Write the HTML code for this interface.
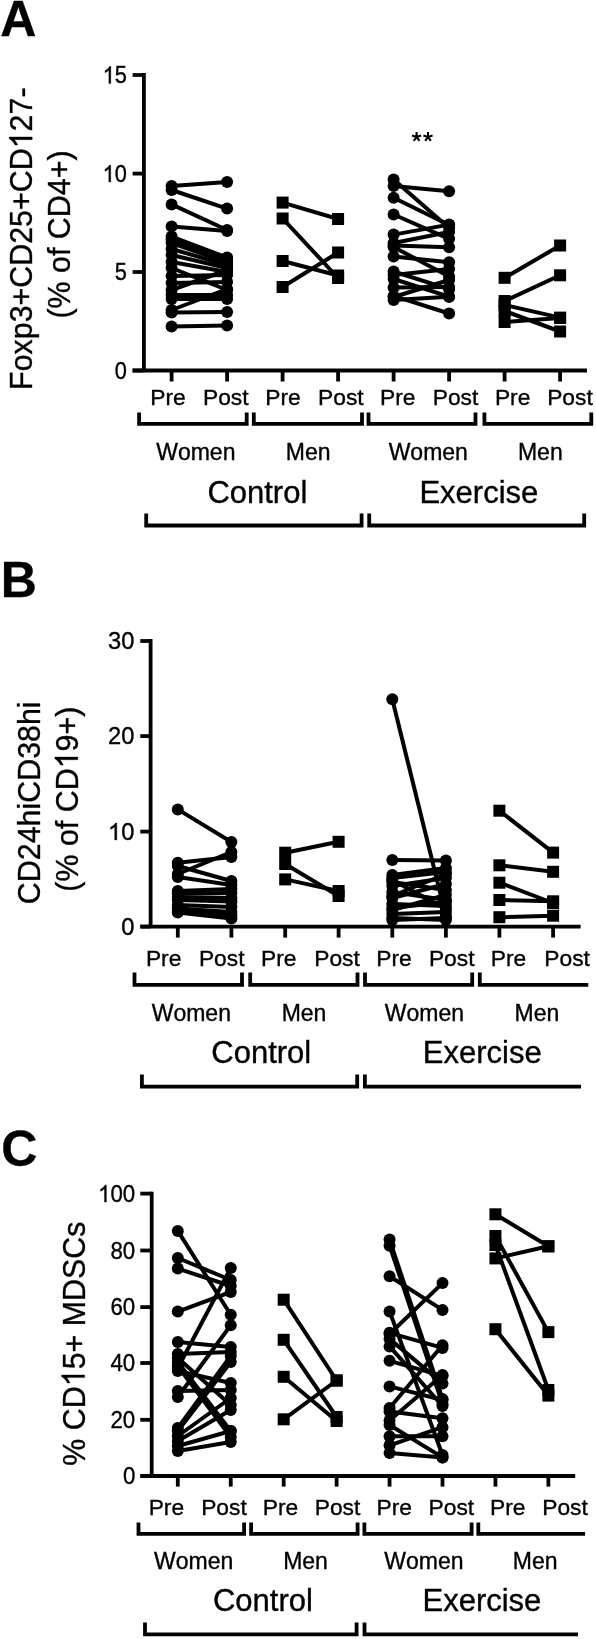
<!DOCTYPE html>
<html><head><meta charset="utf-8"><style>
html,body{margin:0;padding:0;background:#fff;}
svg{display:block;will-change:transform;}
text{font-family:"Liberation Sans",sans-serif;font-kerning:none;fill:#000;stroke:#000;stroke-width:0.35px;}
path.g1{fill:#000;stroke:#000;stroke-width:0.35px;vector-effect:non-scaling-stroke;}
circle,rect{stroke:none;}
</style></head><body>
<svg width="596" height="1639" viewBox="0 0 596 1639">
<rect width="596" height="1639" fill="#fff"/>
<g stroke="#000" stroke-linecap="butt" stroke-linejoin="miter" fill="#000">
<g transform="translate(0.25,36.00) scale(1.0,1)"><text x="0.00" y="0" font-size="50" font-weight="bold">A</text></g>
<g transform="translate(32.20,238.10) rotate(-90) translate(-151.81,0) scale(0.95,1)"><text x="0.00" y="0" font-size="32">Foxp3+CD25+CD</text><path class="g1" d="M763,0 H583 V1147 Q518,1085 412.5,1023 Q307,961 223,930 V1104 Q374,1175 487,1276 Q600,1377 647,1472 H763 Z" transform="translate(254.34,0) scale(0.01562,-0.01562)"/><text x="272.14" y="0" font-size="32">27-</text></g>
<g transform="translate(70.20,234.50) rotate(-90) translate(-84.05,0) scale(0.95,1)"><text x="0.00" y="0" font-size="32">(% of CD4+)</text></g>
<line x1="143.90" y1="73.10" x2="143.90" y2="370.50" stroke-width="3.8"/>
<line x1="132.60" y1="75.00" x2="143.90" y2="75.00" stroke-width="3.8"/>
<g transform="translate(102.66,83.40) scale(0.92,1)"><path class="g1" d="M763,0 H583 V1147 Q518,1085 412.5,1023 Q307,961 223,930 V1104 Q374,1175 487,1276 Q600,1377 647,1472 H763 Z" transform="translate(0.00,0) scale(0.01157,-0.01157)"/><text x="13.18" y="0" font-size="23.7">5</text></g>
<line x1="132.60" y1="173.60" x2="143.90" y2="173.60" stroke-width="3.8"/>
<g transform="translate(102.60,182.00) scale(0.92,1)"><path class="g1" d="M763,0 H583 V1147 Q518,1085 412.5,1023 Q307,961 223,930 V1104 Q374,1175 487,1276 Q600,1377 647,1472 H763 Z" transform="translate(0.00,0) scale(0.01157,-0.01157)"/><text x="13.18" y="0" font-size="23.7">0</text></g>
<line x1="132.60" y1="272.00" x2="143.90" y2="272.00" stroke-width="3.8"/>
<g transform="translate(114.79,280.04) scale(0.92,1)"><text x="0.00" y="0" font-size="23.7">5</text></g>
<line x1="132.60" y1="370.50" x2="143.90" y2="370.50" stroke-width="3.8"/>
<g transform="translate(114.73,378.66) scale(0.92,1)"><text x="0.00" y="0" font-size="23.7">0</text></g>
<line x1="132.60" y1="370.50" x2="587.00" y2="370.50" stroke-width="3.8"/>
<line x1="171.60" y1="370.50" x2="171.60" y2="381.50" stroke-width="3.8"/>
<line x1="227.10" y1="370.50" x2="227.10" y2="381.50" stroke-width="3.8"/>
<line x1="282.60" y1="370.50" x2="282.60" y2="381.50" stroke-width="3.8"/>
<line x1="338.10" y1="370.50" x2="338.10" y2="381.50" stroke-width="3.8"/>
<line x1="393.60" y1="370.50" x2="393.60" y2="381.50" stroke-width="3.8"/>
<line x1="449.10" y1="370.50" x2="449.10" y2="381.50" stroke-width="3.8"/>
<line x1="504.60" y1="370.50" x2="504.60" y2="381.50" stroke-width="3.8"/>
<line x1="560.10" y1="370.50" x2="560.10" y2="381.50" stroke-width="3.8"/>
<g transform="translate(150.18,405.30) scale(1.0,1)"><text x="0.00" y="0" font-size="22.8">Pre</text></g>
<g transform="translate(202.99,405.30) scale(1.0,1)"><text x="0.00" y="0" font-size="22.8">Post</text></g>
<g transform="translate(265.23,405.30) scale(1.0,1)"><text x="0.00" y="0" font-size="22.8">Pre</text></g>
<g transform="translate(318.04,405.30) scale(1.0,1)"><text x="0.00" y="0" font-size="22.8">Post</text></g>
<g transform="translate(379.98,405.30) scale(1.0,1)"><text x="0.00" y="0" font-size="22.8">Pre</text></g>
<g transform="translate(432.69,405.30) scale(1.0,1)"><text x="0.00" y="0" font-size="22.8">Post</text></g>
<g transform="translate(494.88,405.30) scale(1.0,1)"><text x="0.00" y="0" font-size="22.8">Pre</text></g>
<g transform="translate(547.14,405.30) scale(1.0,1)"><text x="0.00" y="0" font-size="22.8">Post</text></g>
<path d="M139.10,412.50 L139.10,423.90 L246.70,423.90 L246.70,412.50" stroke-width="3.8" fill="none"/>
<path d="M253.80,412.50 L253.80,423.90 L362.00,423.90 L362.00,412.50" stroke-width="3.8" fill="none"/>
<path d="M368.50,412.50 L368.50,423.90 L475.50,423.90 L475.50,412.50" stroke-width="3.8" fill="none"/>
<path d="M484.40,412.50 L484.40,423.90 L591.30,423.90 L591.30,412.50" stroke-width="3.8" fill="none"/>
<g transform="translate(156.18,459.50) scale(1.0,1)"><text x="0.00" y="0" font-size="23">Women</text></g>
<g transform="translate(285.73,459.50) scale(1.0,1)"><text x="0.00" y="0" font-size="23">Men</text></g>
<g transform="translate(388.63,459.50) scale(1.0,1)"><text x="0.00" y="0" font-size="23">Women</text></g>
<g transform="translate(517.93,459.50) scale(1.0,1)"><text x="0.00" y="0" font-size="23">Men</text></g>
<g transform="translate(207.38,502.50) scale(1.0,1)"><text x="0.00" y="0" font-size="31">Control</text></g>
<g transform="translate(419.43,502.50) scale(1.0,1)"><text x="0.00" y="0" font-size="31">Exercise</text></g>
<path d="M146.20,513.50 L146.20,525.50 L361.60,525.50 L361.60,513.50" stroke-width="3.8" fill="none"/>
<path d="M369.20,513.50 L369.20,525.50 L584.20,525.50 L584.20,513.50" stroke-width="3.8" fill="none"/>
<path d="M416.60,136.90 L416.60,132.10 M416.60,136.90 L421.17,135.42 M416.60,136.90 L419.42,140.78 M416.60,136.90 L413.78,140.78 M416.60,136.90 L412.03,135.42 " stroke-width="2.1" fill="none"/>
<path d="M428.00,136.90 L428.00,132.10 M428.00,136.90 L432.57,135.42 M428.00,136.90 L430.82,140.78 M428.00,136.90 L425.18,140.78 M428.00,136.90 L423.43,135.42 " stroke-width="2.1" fill="none"/>
<line x1="171.60" y1="186.00" x2="227.10" y2="182.00" stroke-width="4.0"/>
<line x1="171.60" y1="190.00" x2="227.10" y2="208.60" stroke-width="4.0"/>
<line x1="171.60" y1="204.40" x2="227.10" y2="230.00" stroke-width="4.0"/>
<line x1="171.60" y1="226.50" x2="227.10" y2="231.00" stroke-width="4.0"/>
<line x1="171.60" y1="236.50" x2="227.10" y2="257.50" stroke-width="4.0"/>
<line x1="171.60" y1="239.50" x2="227.10" y2="260.00" stroke-width="4.0"/>
<line x1="171.60" y1="243.00" x2="227.10" y2="262.50" stroke-width="4.0"/>
<line x1="171.60" y1="249.00" x2="227.10" y2="265.00" stroke-width="4.0"/>
<line x1="171.60" y1="255.00" x2="227.10" y2="268.00" stroke-width="4.0"/>
<line x1="171.60" y1="262.00" x2="227.10" y2="272.00" stroke-width="4.0"/>
<line x1="171.60" y1="268.00" x2="227.10" y2="290.00" stroke-width="4.0"/>
<line x1="171.60" y1="276.00" x2="227.10" y2="275.00" stroke-width="4.0"/>
<line x1="171.60" y1="290.00" x2="227.10" y2="270.00" stroke-width="4.0"/>
<line x1="171.60" y1="283.00" x2="227.10" y2="282.00" stroke-width="4.0"/>
<line x1="171.60" y1="295.00" x2="227.10" y2="295.00" stroke-width="4.0"/>
<line x1="171.60" y1="299.00" x2="227.10" y2="299.00" stroke-width="4.0"/>
<line x1="171.60" y1="310.00" x2="227.10" y2="289.00" stroke-width="4.0"/>
<line x1="171.60" y1="312.60" x2="227.10" y2="312.00" stroke-width="4.0"/>
<line x1="171.60" y1="326.50" x2="227.10" y2="325.40" stroke-width="4.0"/>
<circle cx="171.60" cy="186.00" r="6.0"/>
<circle cx="227.10" cy="182.00" r="6.0"/>
<circle cx="171.60" cy="190.00" r="6.0"/>
<circle cx="227.10" cy="208.60" r="6.0"/>
<circle cx="171.60" cy="204.40" r="6.0"/>
<circle cx="227.10" cy="230.00" r="6.0"/>
<circle cx="171.60" cy="226.50" r="6.0"/>
<circle cx="227.10" cy="231.00" r="6.0"/>
<circle cx="171.60" cy="236.50" r="6.0"/>
<circle cx="227.10" cy="257.50" r="6.0"/>
<circle cx="171.60" cy="239.50" r="6.0"/>
<circle cx="227.10" cy="260.00" r="6.0"/>
<circle cx="171.60" cy="243.00" r="6.0"/>
<circle cx="227.10" cy="262.50" r="6.0"/>
<circle cx="171.60" cy="249.00" r="6.0"/>
<circle cx="227.10" cy="265.00" r="6.0"/>
<circle cx="171.60" cy="255.00" r="6.0"/>
<circle cx="227.10" cy="268.00" r="6.0"/>
<circle cx="171.60" cy="262.00" r="6.0"/>
<circle cx="227.10" cy="272.00" r="6.0"/>
<circle cx="171.60" cy="268.00" r="6.0"/>
<circle cx="227.10" cy="290.00" r="6.0"/>
<circle cx="171.60" cy="276.00" r="6.0"/>
<circle cx="227.10" cy="275.00" r="6.0"/>
<circle cx="171.60" cy="290.00" r="6.0"/>
<circle cx="227.10" cy="270.00" r="6.0"/>
<circle cx="171.60" cy="283.00" r="6.0"/>
<circle cx="227.10" cy="282.00" r="6.0"/>
<circle cx="171.60" cy="295.00" r="6.0"/>
<circle cx="227.10" cy="295.00" r="6.0"/>
<circle cx="171.60" cy="299.00" r="6.0"/>
<circle cx="227.10" cy="299.00" r="6.0"/>
<circle cx="171.60" cy="310.00" r="6.0"/>
<circle cx="227.10" cy="289.00" r="6.0"/>
<circle cx="171.60" cy="312.60" r="6.0"/>
<circle cx="227.10" cy="312.00" r="6.0"/>
<circle cx="171.60" cy="326.50" r="6.0"/>
<circle cx="227.10" cy="325.40" r="6.0"/>
<line x1="282.60" y1="202.60" x2="338.10" y2="219.00" stroke-width="4.0"/>
<line x1="282.60" y1="218.50" x2="338.10" y2="278.00" stroke-width="4.0"/>
<line x1="282.60" y1="261.00" x2="338.10" y2="275.50" stroke-width="4.0"/>
<line x1="282.60" y1="287.00" x2="338.10" y2="252.50" stroke-width="4.0"/>
<rect x="276.60" y="196.60" width="12.0" height="12.0"/>
<rect x="332.10" y="213.00" width="12.0" height="12.0"/>
<rect x="276.60" y="212.50" width="12.0" height="12.0"/>
<rect x="332.10" y="272.00" width="12.0" height="12.0"/>
<rect x="276.60" y="255.00" width="12.0" height="12.0"/>
<rect x="332.10" y="269.50" width="12.0" height="12.0"/>
<rect x="276.60" y="281.00" width="12.0" height="12.0"/>
<rect x="332.10" y="246.50" width="12.0" height="12.0"/>
<line x1="393.60" y1="179.40" x2="449.10" y2="228.00" stroke-width="4.0"/>
<line x1="393.60" y1="186.00" x2="449.10" y2="191.30" stroke-width="4.0"/>
<line x1="393.60" y1="197.70" x2="449.10" y2="225.00" stroke-width="4.0"/>
<line x1="393.60" y1="214.50" x2="449.10" y2="238.80" stroke-width="4.0"/>
<line x1="393.60" y1="234.60" x2="449.10" y2="224.60" stroke-width="4.0"/>
<line x1="393.60" y1="243.00" x2="449.10" y2="232.00" stroke-width="4.0"/>
<line x1="393.60" y1="245.50" x2="449.10" y2="247.20" stroke-width="4.0"/>
<line x1="393.60" y1="247.00" x2="449.10" y2="276.60" stroke-width="4.0"/>
<line x1="393.60" y1="256.40" x2="449.10" y2="262.30" stroke-width="4.0"/>
<line x1="393.60" y1="271.50" x2="449.10" y2="289.20" stroke-width="4.0"/>
<line x1="393.60" y1="275.00" x2="449.10" y2="269.00" stroke-width="4.0"/>
<line x1="393.60" y1="279.00" x2="449.10" y2="296.70" stroke-width="4.0"/>
<line x1="393.60" y1="287.50" x2="449.10" y2="287.00" stroke-width="4.0"/>
<line x1="393.60" y1="295.90" x2="449.10" y2="313.50" stroke-width="4.0"/>
<line x1="393.60" y1="297.00" x2="449.10" y2="280.00" stroke-width="4.0"/>
<line x1="393.60" y1="300.00" x2="449.10" y2="296.70" stroke-width="4.0"/>
<circle cx="393.60" cy="179.40" r="6.0"/>
<circle cx="449.10" cy="228.00" r="6.0"/>
<circle cx="393.60" cy="186.00" r="6.0"/>
<circle cx="449.10" cy="191.30" r="6.0"/>
<circle cx="393.60" cy="197.70" r="6.0"/>
<circle cx="449.10" cy="225.00" r="6.0"/>
<circle cx="393.60" cy="214.50" r="6.0"/>
<circle cx="449.10" cy="238.80" r="6.0"/>
<circle cx="393.60" cy="234.60" r="6.0"/>
<circle cx="449.10" cy="224.60" r="6.0"/>
<circle cx="393.60" cy="243.00" r="6.0"/>
<circle cx="449.10" cy="232.00" r="6.0"/>
<circle cx="393.60" cy="245.50" r="6.0"/>
<circle cx="449.10" cy="247.20" r="6.0"/>
<circle cx="393.60" cy="247.00" r="6.0"/>
<circle cx="449.10" cy="276.60" r="6.0"/>
<circle cx="393.60" cy="256.40" r="6.0"/>
<circle cx="449.10" cy="262.30" r="6.0"/>
<circle cx="393.60" cy="271.50" r="6.0"/>
<circle cx="449.10" cy="289.20" r="6.0"/>
<circle cx="393.60" cy="275.00" r="6.0"/>
<circle cx="449.10" cy="269.00" r="6.0"/>
<circle cx="393.60" cy="279.00" r="6.0"/>
<circle cx="449.10" cy="296.70" r="6.0"/>
<circle cx="393.60" cy="287.50" r="6.0"/>
<circle cx="449.10" cy="287.00" r="6.0"/>
<circle cx="393.60" cy="295.90" r="6.0"/>
<circle cx="449.10" cy="313.50" r="6.0"/>
<circle cx="393.60" cy="297.00" r="6.0"/>
<circle cx="449.10" cy="280.00" r="6.0"/>
<circle cx="393.60" cy="300.00" r="6.0"/>
<circle cx="449.10" cy="296.70" r="6.0"/>
<line x1="504.60" y1="277.80" x2="560.10" y2="245.50" stroke-width="4.0"/>
<line x1="504.60" y1="301.00" x2="560.10" y2="275.30" stroke-width="4.0"/>
<line x1="504.60" y1="305.00" x2="560.10" y2="317.60" stroke-width="4.0"/>
<line x1="504.60" y1="311.00" x2="560.10" y2="331.50" stroke-width="4.0"/>
<line x1="504.60" y1="322.00" x2="560.10" y2="318.00" stroke-width="4.0"/>
<rect x="498.60" y="271.80" width="12.0" height="12.0"/>
<rect x="554.10" y="239.50" width="12.0" height="12.0"/>
<rect x="498.60" y="295.00" width="12.0" height="12.0"/>
<rect x="554.10" y="269.30" width="12.0" height="12.0"/>
<rect x="498.60" y="299.00" width="12.0" height="12.0"/>
<rect x="554.10" y="311.60" width="12.0" height="12.0"/>
<rect x="498.60" y="305.00" width="12.0" height="12.0"/>
<rect x="554.10" y="325.50" width="12.0" height="12.0"/>
<rect x="498.60" y="316.00" width="12.0" height="12.0"/>
<rect x="554.10" y="312.00" width="12.0" height="12.0"/>
<g transform="translate(0.86,596.80) scale(1.0,1)"><text x="0.00" y="0" font-size="50" font-weight="bold">B</text></g>
<g transform="translate(40.20,803.00) rotate(-90) translate(-101.13,0) scale(0.95,1)"><text x="0.00" y="0" font-size="32">CD24hiCD38hi</text></g>
<g transform="translate(77.80,799.20) rotate(-90) translate(-92.50,0) scale(0.95,1)"><text x="0.00" y="0" font-size="32">(% of CD</text><path class="g1" d="M763,0 H583 V1147 Q518,1085 412.5,1023 Q307,961 223,930 V1104 Q374,1175 487,1276 Q600,1377 647,1472 H763 Z" transform="translate(129.80,0) scale(0.01562,-0.01562)"/><text x="147.59" y="0" font-size="32">9+)</text></g>
<line x1="150.60" y1="639.10" x2="150.60" y2="926.60" stroke-width="3.8"/>
<line x1="140.30" y1="641.00" x2="150.60" y2="641.00" stroke-width="3.8"/>
<g transform="translate(107.96,649.16) scale(1.0,1)"><text x="0.00" y="0" font-size="23.7">30</text></g>
<line x1="140.30" y1="736.10" x2="150.60" y2="736.10" stroke-width="3.8"/>
<g transform="translate(107.96,744.26) scale(1.0,1)"><text x="0.00" y="0" font-size="23.7">20</text></g>
<line x1="140.30" y1="831.60" x2="150.60" y2="831.60" stroke-width="3.8"/>
<g transform="translate(107.96,840.00) scale(1.0,1)"><path class="g1" d="M763,0 H583 V1147 Q518,1085 412.5,1023 Q307,961 223,930 V1104 Q374,1175 487,1276 Q600,1377 647,1472 H763 Z" transform="translate(0.00,0) scale(0.01157,-0.01157)"/><text x="13.18" y="0" font-size="23.7">0</text></g>
<line x1="140.30" y1="926.60" x2="150.60" y2="926.60" stroke-width="3.8"/>
<g transform="translate(121.14,934.76) scale(1.0,1)"><text x="0.00" y="0" font-size="23.7">0</text></g>
<line x1="140.30" y1="926.60" x2="580.60" y2="926.60" stroke-width="3.8"/>
<line x1="177.80" y1="926.60" x2="177.80" y2="937.60" stroke-width="3.8"/>
<line x1="231.40" y1="926.60" x2="231.40" y2="937.60" stroke-width="3.8"/>
<line x1="285.20" y1="926.60" x2="285.20" y2="937.60" stroke-width="3.8"/>
<line x1="338.60" y1="926.60" x2="338.60" y2="937.60" stroke-width="3.8"/>
<line x1="392.30" y1="926.60" x2="392.30" y2="937.60" stroke-width="3.8"/>
<line x1="445.90" y1="926.60" x2="445.90" y2="937.60" stroke-width="3.8"/>
<line x1="499.40" y1="926.60" x2="499.40" y2="937.60" stroke-width="3.8"/>
<line x1="553.10" y1="926.60" x2="553.10" y2="937.60" stroke-width="3.8"/>
<g transform="translate(145.88,966.00) scale(1.0,1)"><text x="0.00" y="0" font-size="22.8">Pre</text></g>
<g transform="translate(198.89,966.00) scale(1.0,1)"><text x="0.00" y="0" font-size="22.8">Post</text></g>
<g transform="translate(260.93,966.00) scale(1.0,1)"><text x="0.00" y="0" font-size="22.8">Pre</text></g>
<g transform="translate(314.19,966.00) scale(1.0,1)"><text x="0.00" y="0" font-size="22.8">Post</text></g>
<g transform="translate(376.28,966.00) scale(1.0,1)"><text x="0.00" y="0" font-size="22.8">Pre</text></g>
<g transform="translate(428.89,966.00) scale(1.0,1)"><text x="0.00" y="0" font-size="22.8">Post</text></g>
<g transform="translate(490.68,966.00) scale(1.0,1)"><text x="0.00" y="0" font-size="22.8">Pre</text></g>
<g transform="translate(544.29,966.00) scale(1.0,1)"><text x="0.00" y="0" font-size="22.8">Post</text></g>
<path d="M134.50,972.50 L134.50,984.80 L242.00,984.80 L242.00,972.50" stroke-width="3.8" fill="none"/>
<path d="M250.20,972.50 L250.20,984.80 L357.50,984.80 L357.50,972.50" stroke-width="3.8" fill="none"/>
<path d="M365.00,972.50 L365.00,984.80 L472.20,984.80 L472.20,972.50" stroke-width="3.8" fill="none"/>
<path d="M479.80,972.50 L479.80,984.80 L588.30,984.80" stroke-width="3.8" fill="none"/>
<g transform="translate(151.68,1020.90) scale(1.0,1)"><text x="0.00" y="0" font-size="23">Women</text></g>
<g transform="translate(281.63,1020.90) scale(1.0,1)"><text x="0.00" y="0" font-size="23">Men</text></g>
<g transform="translate(384.83,1020.90) scale(1.0,1)"><text x="0.00" y="0" font-size="23">Women</text></g>
<g transform="translate(514.48,1020.90) scale(1.0,1)"><text x="0.00" y="0" font-size="23">Men</text></g>
<g transform="translate(211.28,1062.50) scale(1.0,1)"><text x="0.00" y="0" font-size="31">Control</text></g>
<g transform="translate(422.83,1062.50) scale(1.0,1)"><text x="0.00" y="0" font-size="31">Exercise</text></g>
<path d="M141.90,1074.50 L141.90,1086.60 L357.20,1086.60 L357.20,1074.50" stroke-width="3.8" fill="none"/>
<path d="M364.90,1074.50 L364.90,1086.60 L581.00,1086.60" stroke-width="3.8" fill="none"/>
<line x1="177.80" y1="809.40" x2="231.40" y2="842.00" stroke-width="4.0"/>
<line x1="177.80" y1="862.70" x2="231.40" y2="857.00" stroke-width="4.0"/>
<line x1="177.80" y1="874.00" x2="231.40" y2="852.00" stroke-width="4.0"/>
<line x1="177.80" y1="866.00" x2="231.40" y2="881.00" stroke-width="4.0"/>
<line x1="177.80" y1="877.00" x2="231.40" y2="885.00" stroke-width="4.0"/>
<line x1="177.80" y1="891.00" x2="231.40" y2="889.00" stroke-width="4.0"/>
<line x1="177.80" y1="893.50" x2="231.40" y2="893.00" stroke-width="4.0"/>
<line x1="177.80" y1="897.00" x2="231.40" y2="898.00" stroke-width="4.0"/>
<line x1="177.80" y1="900.00" x2="231.40" y2="901.50" stroke-width="4.0"/>
<line x1="177.80" y1="905.00" x2="231.40" y2="907.00" stroke-width="4.0"/>
<line x1="177.80" y1="908.50" x2="231.40" y2="912.00" stroke-width="4.0"/>
<line x1="177.80" y1="911.00" x2="231.40" y2="915.50" stroke-width="4.0"/>
<line x1="177.80" y1="912.50" x2="231.40" y2="918.50" stroke-width="4.0"/>
<circle cx="177.80" cy="809.40" r="6.0"/>
<circle cx="231.40" cy="842.00" r="6.0"/>
<circle cx="177.80" cy="862.70" r="6.0"/>
<circle cx="231.40" cy="857.00" r="6.0"/>
<circle cx="177.80" cy="874.00" r="6.0"/>
<circle cx="231.40" cy="852.00" r="6.0"/>
<circle cx="177.80" cy="866.00" r="6.0"/>
<circle cx="231.40" cy="881.00" r="6.0"/>
<circle cx="177.80" cy="877.00" r="6.0"/>
<circle cx="231.40" cy="885.00" r="6.0"/>
<circle cx="177.80" cy="891.00" r="6.0"/>
<circle cx="231.40" cy="889.00" r="6.0"/>
<circle cx="177.80" cy="893.50" r="6.0"/>
<circle cx="231.40" cy="893.00" r="6.0"/>
<circle cx="177.80" cy="897.00" r="6.0"/>
<circle cx="231.40" cy="898.00" r="6.0"/>
<circle cx="177.80" cy="900.00" r="6.0"/>
<circle cx="231.40" cy="901.50" r="6.0"/>
<circle cx="177.80" cy="905.00" r="6.0"/>
<circle cx="231.40" cy="907.00" r="6.0"/>
<circle cx="177.80" cy="908.50" r="6.0"/>
<circle cx="231.40" cy="912.00" r="6.0"/>
<circle cx="177.80" cy="911.00" r="6.0"/>
<circle cx="231.40" cy="915.50" r="6.0"/>
<circle cx="177.80" cy="912.50" r="6.0"/>
<circle cx="231.40" cy="918.50" r="6.0"/>
<line x1="285.20" y1="852.70" x2="338.60" y2="841.80" stroke-width="4.0"/>
<line x1="285.20" y1="864.00" x2="338.60" y2="896.00" stroke-width="4.0"/>
<line x1="285.20" y1="879.40" x2="338.60" y2="891.00" stroke-width="4.0"/>
<rect x="279.20" y="846.70" width="12.0" height="12.0"/>
<rect x="332.60" y="835.80" width="12.0" height="12.0"/>
<rect x="279.20" y="858.00" width="12.0" height="12.0"/>
<rect x="332.60" y="890.00" width="12.0" height="12.0"/>
<rect x="279.20" y="873.40" width="12.0" height="12.0"/>
<rect x="332.60" y="885.00" width="12.0" height="12.0"/>
<line x1="392.30" y1="699.30" x2="445.90" y2="916.00" stroke-width="4.0"/>
<line x1="392.30" y1="859.90" x2="445.90" y2="860.60" stroke-width="4.0"/>
<line x1="392.30" y1="875.00" x2="445.90" y2="868.00" stroke-width="4.0"/>
<line x1="392.30" y1="878.00" x2="445.90" y2="872.00" stroke-width="4.0"/>
<line x1="392.30" y1="882.00" x2="445.90" y2="890.00" stroke-width="4.0"/>
<line x1="392.30" y1="886.00" x2="445.90" y2="878.00" stroke-width="4.0"/>
<line x1="392.30" y1="892.00" x2="445.90" y2="900.00" stroke-width="4.0"/>
<line x1="392.30" y1="898.00" x2="445.90" y2="884.00" stroke-width="4.0"/>
<line x1="392.30" y1="904.00" x2="445.90" y2="906.00" stroke-width="4.0"/>
<line x1="392.30" y1="910.00" x2="445.90" y2="895.00" stroke-width="4.0"/>
<line x1="392.30" y1="914.00" x2="445.90" y2="912.00" stroke-width="4.0"/>
<line x1="392.30" y1="918.00" x2="445.90" y2="920.00" stroke-width="4.0"/>
<line x1="392.30" y1="920.00" x2="445.90" y2="918.00" stroke-width="4.0"/>
<line x1="392.30" y1="880.00" x2="445.90" y2="909.00" stroke-width="4.0"/>
<line x1="392.30" y1="896.00" x2="445.90" y2="874.00" stroke-width="4.0"/>
<line x1="392.30" y1="908.00" x2="445.90" y2="902.00" stroke-width="4.0"/>
<circle cx="392.30" cy="699.30" r="6.0"/>
<circle cx="445.90" cy="916.00" r="6.0"/>
<circle cx="392.30" cy="859.90" r="6.0"/>
<circle cx="445.90" cy="860.60" r="6.0"/>
<circle cx="392.30" cy="875.00" r="6.0"/>
<circle cx="445.90" cy="868.00" r="6.0"/>
<circle cx="392.30" cy="878.00" r="6.0"/>
<circle cx="445.90" cy="872.00" r="6.0"/>
<circle cx="392.30" cy="882.00" r="6.0"/>
<circle cx="445.90" cy="890.00" r="6.0"/>
<circle cx="392.30" cy="886.00" r="6.0"/>
<circle cx="445.90" cy="878.00" r="6.0"/>
<circle cx="392.30" cy="892.00" r="6.0"/>
<circle cx="445.90" cy="900.00" r="6.0"/>
<circle cx="392.30" cy="898.00" r="6.0"/>
<circle cx="445.90" cy="884.00" r="6.0"/>
<circle cx="392.30" cy="904.00" r="6.0"/>
<circle cx="445.90" cy="906.00" r="6.0"/>
<circle cx="392.30" cy="910.00" r="6.0"/>
<circle cx="445.90" cy="895.00" r="6.0"/>
<circle cx="392.30" cy="914.00" r="6.0"/>
<circle cx="445.90" cy="912.00" r="6.0"/>
<circle cx="392.30" cy="918.00" r="6.0"/>
<circle cx="445.90" cy="920.00" r="6.0"/>
<circle cx="392.30" cy="920.00" r="6.0"/>
<circle cx="445.90" cy="918.00" r="6.0"/>
<circle cx="392.30" cy="880.00" r="6.0"/>
<circle cx="445.90" cy="909.00" r="6.0"/>
<circle cx="392.30" cy="896.00" r="6.0"/>
<circle cx="445.90" cy="874.00" r="6.0"/>
<circle cx="392.30" cy="908.00" r="6.0"/>
<circle cx="445.90" cy="902.00" r="6.0"/>
<line x1="499.40" y1="810.70" x2="553.10" y2="852.60" stroke-width="4.0"/>
<line x1="499.40" y1="865.30" x2="553.10" y2="871.80" stroke-width="4.0"/>
<line x1="499.40" y1="882.70" x2="553.10" y2="903.00" stroke-width="4.0"/>
<line x1="499.40" y1="900.00" x2="553.10" y2="901.30" stroke-width="4.0"/>
<line x1="499.40" y1="917.20" x2="553.10" y2="915.70" stroke-width="4.0"/>
<rect x="493.40" y="804.70" width="12.0" height="12.0"/>
<rect x="547.10" y="846.60" width="12.0" height="12.0"/>
<rect x="493.40" y="859.30" width="12.0" height="12.0"/>
<rect x="547.10" y="865.80" width="12.0" height="12.0"/>
<rect x="493.40" y="876.70" width="12.0" height="12.0"/>
<rect x="547.10" y="897.00" width="12.0" height="12.0"/>
<rect x="493.40" y="894.00" width="12.0" height="12.0"/>
<rect x="547.10" y="895.30" width="12.0" height="12.0"/>
<rect x="493.40" y="911.20" width="12.0" height="12.0"/>
<rect x="547.10" y="909.70" width="12.0" height="12.0"/>
<g transform="translate(1.15,1165.60) scale(1.0,1)"><text x="0.00" y="0" font-size="50" font-weight="bold">C</text></g>
<g transform="translate(84.60,1343.60) rotate(-90) translate(-122.05,0) scale(0.95,1)"><text x="0.00" y="0" font-size="32">% CD</text><path class="g1" d="M763,0 H583 V1147 Q518,1085 412.5,1023 Q307,961 223,930 V1104 Q374,1175 487,1276 Q600,1377 647,1472 H763 Z" transform="translate(83.56,0) scale(0.01562,-0.01562)"/><text x="101.36" y="0" font-size="32">5+ MDSCs</text></g>
<line x1="151.70" y1="1191.70" x2="151.70" y2="1476.00" stroke-width="3.8"/>
<line x1="140.30" y1="1193.60" x2="151.70" y2="1193.60" stroke-width="3.8"/>
<g transform="translate(98.10,1202.00) scale(0.94,1)"><path class="g1" d="M763,0 H583 V1147 Q518,1085 412.5,1023 Q307,961 223,930 V1104 Q374,1175 487,1276 Q600,1377 647,1472 H763 Z" transform="translate(0.00,0) scale(0.01157,-0.01157)"/><text x="13.18" y="0" font-size="23.7">00</text></g>
<line x1="140.30" y1="1250.50" x2="151.70" y2="1250.50" stroke-width="3.8"/>
<g transform="translate(110.49,1258.66) scale(0.94,1)"><text x="0.00" y="0" font-size="23.7">80</text></g>
<line x1="140.30" y1="1307.10" x2="151.70" y2="1307.10" stroke-width="3.8"/>
<g transform="translate(110.49,1315.26) scale(0.94,1)"><text x="0.00" y="0" font-size="23.7">60</text></g>
<line x1="140.30" y1="1363.00" x2="151.70" y2="1363.00" stroke-width="3.8"/>
<g transform="translate(110.49,1371.16) scale(0.94,1)"><text x="0.00" y="0" font-size="23.7">40</text></g>
<line x1="140.30" y1="1419.80" x2="151.70" y2="1419.80" stroke-width="3.8"/>
<g transform="translate(110.49,1427.96) scale(0.94,1)"><text x="0.00" y="0" font-size="23.7">20</text></g>
<line x1="140.30" y1="1476.00" x2="151.70" y2="1476.00" stroke-width="3.8"/>
<g transform="translate(122.88,1484.16) scale(0.94,1)"><text x="0.00" y="0" font-size="23.7">0</text></g>
<line x1="140.50" y1="1476.00" x2="575.20" y2="1476.00" stroke-width="3.8"/>
<line x1="177.80" y1="1476.00" x2="177.80" y2="1486.60" stroke-width="3.8"/>
<line x1="230.74" y1="1476.00" x2="230.74" y2="1486.60" stroke-width="3.8"/>
<line x1="283.68" y1="1476.00" x2="283.68" y2="1486.60" stroke-width="3.8"/>
<line x1="336.62" y1="1476.00" x2="336.62" y2="1486.60" stroke-width="3.8"/>
<line x1="389.56" y1="1476.00" x2="389.56" y2="1486.60" stroke-width="3.8"/>
<line x1="442.50" y1="1476.00" x2="442.50" y2="1486.60" stroke-width="3.8"/>
<line x1="495.44" y1="1476.00" x2="495.44" y2="1486.60" stroke-width="3.8"/>
<line x1="548.38" y1="1476.00" x2="548.38" y2="1486.60" stroke-width="3.8"/>
<g transform="translate(148.63,1515.30) scale(1.0,1)"><text x="0.00" y="0" font-size="22.8">Pre</text></g>
<g transform="translate(201.14,1515.30) scale(1.0,1)"><text x="0.00" y="0" font-size="22.8">Post</text></g>
<g transform="translate(262.68,1515.30) scale(1.0,1)"><text x="0.00" y="0" font-size="22.8">Pre</text></g>
<g transform="translate(314.69,1515.30) scale(1.0,1)"><text x="0.00" y="0" font-size="22.8">Post</text></g>
<g transform="translate(376.48,1515.30) scale(1.0,1)"><text x="0.00" y="0" font-size="22.8">Pre</text></g>
<g transform="translate(428.59,1515.30) scale(1.0,1)"><text x="0.00" y="0" font-size="22.8">Post</text></g>
<g transform="translate(489.93,1515.30) scale(1.0,1)"><text x="0.00" y="0" font-size="22.8">Pre</text></g>
<g transform="translate(542.24,1515.30) scale(1.0,1)"><text x="0.00" y="0" font-size="22.8">Post</text></g>
<path d="M138.50,1522.50 L138.50,1533.90 L244.10,1533.90 L244.10,1522.50" stroke-width="3.8" fill="none"/>
<path d="M251.10,1522.50 L251.10,1533.90 L357.60,1533.90 L357.60,1522.50" stroke-width="3.8" fill="none"/>
<path d="M364.40,1522.50 L364.40,1533.90 L471.60,1533.90 L471.60,1522.50" stroke-width="3.8" fill="none"/>
<path d="M478.30,1522.50 L478.30,1533.90 L585.10,1533.90" stroke-width="3.8" fill="none"/>
<g transform="translate(153.98,1568.50) scale(1.0,1)"><text x="0.00" y="0" font-size="23">Women</text></g>
<g transform="translate(283.13,1568.50) scale(1.0,1)"><text x="0.00" y="0" font-size="23">Men</text></g>
<g transform="translate(384.23,1568.50) scale(1.0,1)"><text x="0.00" y="0" font-size="23">Women</text></g>
<g transform="translate(512.78,1568.50) scale(1.0,1)"><text x="0.00" y="0" font-size="23">Men</text></g>
<g transform="translate(212.98,1611.30) scale(1.0,1)"><text x="0.00" y="0" font-size="31">Control</text></g>
<g transform="translate(422.48,1611.30) scale(1.0,1)"><text x="0.00" y="0" font-size="31">Exercise</text></g>
<path d="M145.00,1622.50 L145.00,1634.40 L356.60,1634.40 L356.60,1622.50" stroke-width="3.8" fill="none"/>
<path d="M364.50,1622.50 L364.50,1634.40 L578.00,1634.40" stroke-width="3.8" fill="none"/>
<line x1="177.80" y1="1230.90" x2="230.74" y2="1314.80" stroke-width="4.0"/>
<line x1="177.80" y1="1258.00" x2="230.74" y2="1280.00" stroke-width="4.0"/>
<line x1="177.80" y1="1268.60" x2="230.74" y2="1286.00" stroke-width="4.0"/>
<line x1="177.80" y1="1311.60" x2="230.74" y2="1292.00" stroke-width="4.0"/>
<line x1="177.80" y1="1368.00" x2="230.74" y2="1268.00" stroke-width="4.0"/>
<line x1="177.80" y1="1341.90" x2="230.74" y2="1347.00" stroke-width="4.0"/>
<line x1="177.80" y1="1354.00" x2="230.74" y2="1352.00" stroke-width="4.0"/>
<line x1="177.80" y1="1358.00" x2="230.74" y2="1405.00" stroke-width="4.0"/>
<line x1="177.80" y1="1362.00" x2="230.74" y2="1431.00" stroke-width="4.0"/>
<line x1="177.80" y1="1366.00" x2="230.74" y2="1437.00" stroke-width="4.0"/>
<line x1="177.80" y1="1371.00" x2="230.74" y2="1383.00" stroke-width="4.0"/>
<line x1="177.80" y1="1391.00" x2="230.74" y2="1390.00" stroke-width="4.0"/>
<line x1="177.80" y1="1397.00" x2="230.74" y2="1325.30" stroke-width="4.0"/>
<line x1="177.80" y1="1431.00" x2="230.74" y2="1362.00" stroke-width="4.0"/>
<line x1="177.80" y1="1436.00" x2="230.74" y2="1398.00" stroke-width="4.0"/>
<line x1="177.80" y1="1441.00" x2="230.74" y2="1410.00" stroke-width="4.0"/>
<line x1="177.80" y1="1428.00" x2="230.74" y2="1356.00" stroke-width="4.0"/>
<line x1="177.80" y1="1451.00" x2="230.74" y2="1442.00" stroke-width="4.0"/>
<line x1="177.80" y1="1446.00" x2="230.74" y2="1431.00" stroke-width="4.0"/>
<circle cx="177.80" cy="1230.90" r="6.0"/>
<circle cx="230.74" cy="1314.80" r="6.0"/>
<circle cx="177.80" cy="1258.00" r="6.0"/>
<circle cx="230.74" cy="1280.00" r="6.0"/>
<circle cx="177.80" cy="1268.60" r="6.0"/>
<circle cx="230.74" cy="1286.00" r="6.0"/>
<circle cx="177.80" cy="1311.60" r="6.0"/>
<circle cx="230.74" cy="1292.00" r="6.0"/>
<circle cx="177.80" cy="1368.00" r="6.0"/>
<circle cx="230.74" cy="1268.00" r="6.0"/>
<circle cx="177.80" cy="1341.90" r="6.0"/>
<circle cx="230.74" cy="1347.00" r="6.0"/>
<circle cx="177.80" cy="1354.00" r="6.0"/>
<circle cx="230.74" cy="1352.00" r="6.0"/>
<circle cx="177.80" cy="1358.00" r="6.0"/>
<circle cx="230.74" cy="1405.00" r="6.0"/>
<circle cx="177.80" cy="1362.00" r="6.0"/>
<circle cx="230.74" cy="1431.00" r="6.0"/>
<circle cx="177.80" cy="1366.00" r="6.0"/>
<circle cx="230.74" cy="1437.00" r="6.0"/>
<circle cx="177.80" cy="1371.00" r="6.0"/>
<circle cx="230.74" cy="1383.00" r="6.0"/>
<circle cx="177.80" cy="1391.00" r="6.0"/>
<circle cx="230.74" cy="1390.00" r="6.0"/>
<circle cx="177.80" cy="1397.00" r="6.0"/>
<circle cx="230.74" cy="1325.30" r="6.0"/>
<circle cx="177.80" cy="1431.00" r="6.0"/>
<circle cx="230.74" cy="1362.00" r="6.0"/>
<circle cx="177.80" cy="1436.00" r="6.0"/>
<circle cx="230.74" cy="1398.00" r="6.0"/>
<circle cx="177.80" cy="1441.00" r="6.0"/>
<circle cx="230.74" cy="1410.00" r="6.0"/>
<circle cx="177.80" cy="1428.00" r="6.0"/>
<circle cx="230.74" cy="1356.00" r="6.0"/>
<circle cx="177.80" cy="1451.00" r="6.0"/>
<circle cx="230.74" cy="1442.00" r="6.0"/>
<circle cx="177.80" cy="1446.00" r="6.0"/>
<circle cx="230.74" cy="1431.00" r="6.0"/>
<line x1="283.68" y1="1299.70" x2="336.62" y2="1380.50" stroke-width="4.0"/>
<line x1="283.68" y1="1339.80" x2="336.62" y2="1417.00" stroke-width="4.0"/>
<line x1="283.68" y1="1376.80" x2="336.62" y2="1421.00" stroke-width="4.0"/>
<line x1="283.68" y1="1419.30" x2="336.62" y2="1380.50" stroke-width="4.0"/>
<rect x="277.68" y="1293.70" width="12.0" height="12.0"/>
<rect x="330.62" y="1374.50" width="12.0" height="12.0"/>
<rect x="277.68" y="1333.80" width="12.0" height="12.0"/>
<rect x="330.62" y="1411.00" width="12.0" height="12.0"/>
<rect x="277.68" y="1370.80" width="12.0" height="12.0"/>
<rect x="330.62" y="1415.00" width="12.0" height="12.0"/>
<rect x="277.68" y="1413.30" width="12.0" height="12.0"/>
<rect x="330.62" y="1374.50" width="12.0" height="12.0"/>
<line x1="389.56" y1="1239.60" x2="442.50" y2="1399.00" stroke-width="4.0"/>
<line x1="389.56" y1="1245.70" x2="442.50" y2="1404.00" stroke-width="4.0"/>
<line x1="389.56" y1="1276.20" x2="442.50" y2="1309.90" stroke-width="4.0"/>
<line x1="389.56" y1="1334.00" x2="442.50" y2="1283.10" stroke-width="4.0"/>
<line x1="389.56" y1="1311.40" x2="442.50" y2="1455.00" stroke-width="4.0"/>
<line x1="389.56" y1="1332.80" x2="442.50" y2="1347.90" stroke-width="4.0"/>
<line x1="389.56" y1="1338.90" x2="442.50" y2="1383.40" stroke-width="4.0"/>
<line x1="389.56" y1="1346.40" x2="442.50" y2="1406.00" stroke-width="4.0"/>
<line x1="389.56" y1="1360.80" x2="442.50" y2="1375.90" stroke-width="4.0"/>
<line x1="389.56" y1="1386.40" x2="442.50" y2="1400.00" stroke-width="4.0"/>
<line x1="389.56" y1="1411.40" x2="442.50" y2="1418.20" stroke-width="4.0"/>
<line x1="389.56" y1="1420.40" x2="442.50" y2="1375.00" stroke-width="4.0"/>
<line x1="389.56" y1="1436.30" x2="442.50" y2="1436.30" stroke-width="4.0"/>
<line x1="389.56" y1="1445.30" x2="442.50" y2="1427.20" stroke-width="4.0"/>
<line x1="389.56" y1="1452.90" x2="442.50" y2="1457.40" stroke-width="4.0"/>
<line x1="389.56" y1="1425.00" x2="442.50" y2="1457.40" stroke-width="4.0"/>
<line x1="389.56" y1="1408.00" x2="442.50" y2="1345.30" stroke-width="4.0"/>
<circle cx="389.56" cy="1239.60" r="6.0"/>
<circle cx="442.50" cy="1399.00" r="6.0"/>
<circle cx="389.56" cy="1245.70" r="6.0"/>
<circle cx="442.50" cy="1404.00" r="6.0"/>
<circle cx="389.56" cy="1276.20" r="6.0"/>
<circle cx="442.50" cy="1309.90" r="6.0"/>
<circle cx="389.56" cy="1334.00" r="6.0"/>
<circle cx="442.50" cy="1283.10" r="6.0"/>
<circle cx="389.56" cy="1311.40" r="6.0"/>
<circle cx="442.50" cy="1455.00" r="6.0"/>
<circle cx="389.56" cy="1332.80" r="6.0"/>
<circle cx="442.50" cy="1347.90" r="6.0"/>
<circle cx="389.56" cy="1338.90" r="6.0"/>
<circle cx="442.50" cy="1383.40" r="6.0"/>
<circle cx="389.56" cy="1346.40" r="6.0"/>
<circle cx="442.50" cy="1406.00" r="6.0"/>
<circle cx="389.56" cy="1360.80" r="6.0"/>
<circle cx="442.50" cy="1375.90" r="6.0"/>
<circle cx="389.56" cy="1386.40" r="6.0"/>
<circle cx="442.50" cy="1400.00" r="6.0"/>
<circle cx="389.56" cy="1411.40" r="6.0"/>
<circle cx="442.50" cy="1418.20" r="6.0"/>
<circle cx="389.56" cy="1420.40" r="6.0"/>
<circle cx="442.50" cy="1375.00" r="6.0"/>
<circle cx="389.56" cy="1436.30" r="6.0"/>
<circle cx="442.50" cy="1436.30" r="6.0"/>
<circle cx="389.56" cy="1445.30" r="6.0"/>
<circle cx="442.50" cy="1427.20" r="6.0"/>
<circle cx="389.56" cy="1452.90" r="6.0"/>
<circle cx="442.50" cy="1457.40" r="6.0"/>
<circle cx="389.56" cy="1425.00" r="6.0"/>
<circle cx="442.50" cy="1457.40" r="6.0"/>
<circle cx="389.56" cy="1408.00" r="6.0"/>
<circle cx="442.50" cy="1345.30" r="6.0"/>
<line x1="495.44" y1="1214.30" x2="548.38" y2="1246.30" stroke-width="4.0"/>
<line x1="495.44" y1="1236.00" x2="548.38" y2="1332.10" stroke-width="4.0"/>
<line x1="495.44" y1="1245.00" x2="548.38" y2="1390.00" stroke-width="4.0"/>
<line x1="495.44" y1="1258.40" x2="548.38" y2="1246.30" stroke-width="4.0"/>
<line x1="495.44" y1="1329.20" x2="548.38" y2="1395.60" stroke-width="4.0"/>
<rect x="489.44" y="1208.30" width="12.0" height="12.0"/>
<rect x="542.38" y="1240.30" width="12.0" height="12.0"/>
<rect x="489.44" y="1230.00" width="12.0" height="12.0"/>
<rect x="542.38" y="1326.10" width="12.0" height="12.0"/>
<rect x="489.44" y="1239.00" width="12.0" height="12.0"/>
<rect x="542.38" y="1384.00" width="12.0" height="12.0"/>
<rect x="489.44" y="1252.40" width="12.0" height="12.0"/>
<rect x="542.38" y="1240.30" width="12.0" height="12.0"/>
<rect x="489.44" y="1323.20" width="12.0" height="12.0"/>
<rect x="542.38" y="1389.60" width="12.0" height="12.0"/>
</g>
</svg>
</body></html>
